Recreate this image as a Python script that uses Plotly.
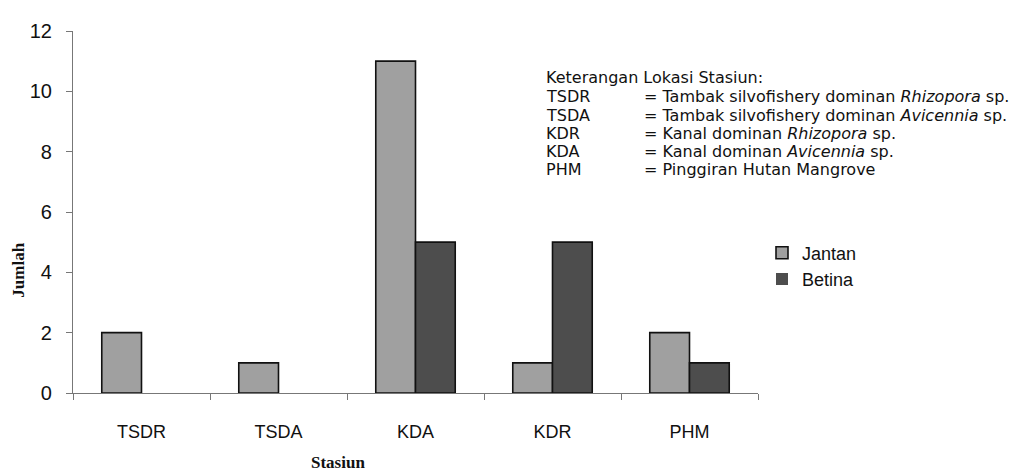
import plotly.graph_objects as go

stations = ["TSDR", "TSDA", "KDA", "KDR", "PHM"]
jantan = [2, 1, 11, 1, 2]
betina = [0, 0, 5, 5, 1]
y_ticks = [0, 2, 4, 6, 8, 10, 12]

legend_codes = ["TSDR", "TSDA", "KDR", "KDA", "PHM"]
legend_desc = [
    "= Tambak silvofishery dominan <i>Rhizopora</i> sp.",
    "= Tambak silvofishery dominan <i>Avicennia</i> sp.",
    "= Kanal dominan <i>Rhizopora</i> sp.",
    "= Kanal dominan <i>Avicennia</i> sp.",
    "= Pinggiran Hutan Mangrove",
]

OFF = 8  # page body margin
W, H = 1028 - OFF, 476 - OFF
L, R, T, B = 73 - OFF, 758 - OFF, 23 - OFF, 393 - OFF


def px(x):
    return (x - OFF - L) / (R - L)


def py(y):
    return (B - (y - OFF)) / (B - T)


def widths(vals):
    return [1.6 if v > 0 else 0 for v in vals]


fig = go.Figure()
fig.add_trace(go.Bar(name="Jantan", x=stations, y=jantan, legendgroup="j",
                     marker=dict(color="#A0A0A0", line=dict(color="#111111", width=widths(jantan)))))
fig.add_trace(go.Bar(name="Betina", x=stations, y=betina, legendgroup="b",
                     marker=dict(color="#4D4D4D", line=dict(color="#111111", width=widths(betina)))))

font_sans = "DejaVu Sans, Arial, sans-serif"
font_tick = "Liberation Sans, Arial, sans-serif"
font_serif = "Liberation Serif, Times New Roman, serif"

annotations = []
annotations.append(dict(x=px(544), y=py(71), xref="paper", yref="paper", text="Keterangan Lokasi Stasiun:",
                        showarrow=False, xanchor="left", yanchor="middle",
                        font=dict(family=font_sans, size=16, color="#111111")))
line_y = [90, 109, 128, 146, 165]
for code, desc, yy in zip(legend_codes, legend_desc, line_y):
    annotations.append(dict(x=px(544), y=py(yy), xref="paper", yref="paper", text=code,
                            showarrow=False, xanchor="left", yanchor="middle",
                            font=dict(family=font_sans, size=16, color="#111111")))
    annotations.append(dict(x=px(642), y=py(yy), xref="paper", yref="paper", text=desc,
                            showarrow=False, xanchor="left", yanchor="middle",
                            font=dict(family=font_sans, size=16, color="#111111")))

annotations.append(dict(x=px(338), y=py(464), xref="paper", yref="paper", text="<b>Stasiun</b>",
                        showarrow=False, xanchor="center", yanchor="middle",
                        font=dict(family=font_serif, size=17, color="#111111")))
annotations.append(dict(x=px(19), y=py(268), xref="paper", yref="paper", text="<b>Jumlah</b>",
                        showarrow=False, xanchor="center", yanchor="middle", textangle=-90,
                        font=dict(family=font_serif, size=17, color="#111111")))

fig.update_layout(
    width=W, height=H,
    margin=dict(l=L, r=W - R, t=T, b=H - B, pad=0),
    paper_bgcolor="white", plot_bgcolor="white",
    barmode="group", bargap=0.42, bargroupgap=0,
    showlegend=True,
    legend=dict(x=px(762), y=py(231), xanchor="left", yanchor="top",
                font=dict(family=font_tick, size=18, color="#111111"),
                tracegroupgap=8, itemwidth=30, traceorder="normal",
                bgcolor="rgba(0,0,0,0)"),
    annotations=annotations,
    font=dict(family=font_tick, color="#111111"),
)

fig.update_xaxes(
    type="category", tickson="boundaries", ticks="outside", ticklen=6, tickcolor="#777777",
    showline=True, linecolor="#777777", linewidth=1.2, showgrid=False,
    tickfont=dict(family=font_tick, size=18, color="#111111"), ticklabelstandoff=22,
    range=[-0.5, 4.5],
)
fig.update_yaxes(
    range=[0, 12], tickvals=y_ticks, ticks="outside", ticklen=6, tickcolor="#777777",
    showline=True, linecolor="#777777", linewidth=1.2, showgrid=False, zeroline=False,
    tickfont=dict(family=font_tick, size=20, color="#111111"), ticklabelstandoff=10,
)

fig.write_html("out.html")
